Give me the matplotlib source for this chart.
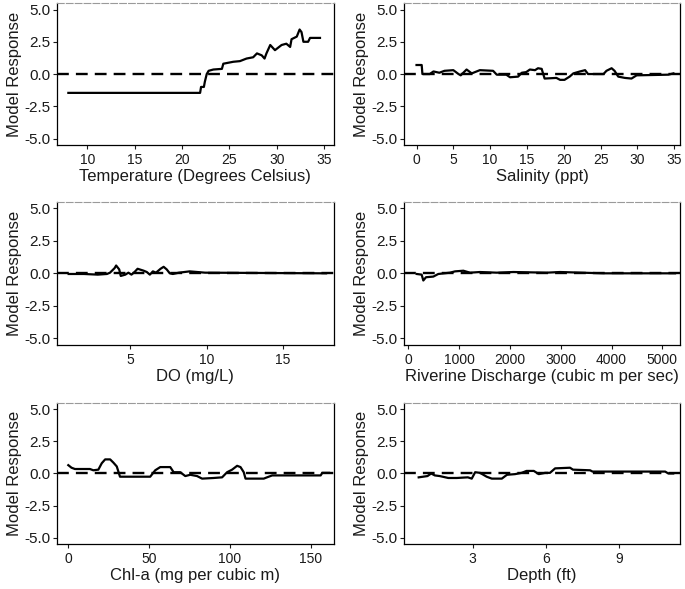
import matplotlib
matplotlib.use("Agg")
import matplotlib.pyplot as plt

plt.rcParams['font.family'] = ['Liberation Sans', 'DejaVu Sans']

# Temperature (Degrees Celsius)
temp_x = [8.0, 21.9, 22.0, 22.3, 22.4, 22.6, 22.8, 23.3, 24.2, 24.35, 25.4, 26.1, 26.8,
          27.5, 27.9, 28.4, 28.7, 28.9, 29.3, 29.8, 30.5, 31.0, 31.4, 31.55, 32.1,
          32.4, 32.6, 32.8, 33.3, 33.5, 34.55]
temp_y = [-1.46, -1.46, -1.0, -1.0, -0.6, 0.0, 0.25, 0.35, 0.4, 0.8, 0.95, 1.0, 1.2,
          1.3, 1.6, 1.45, 1.2, 1.6, 2.25, 1.85, 2.25, 2.35, 2.1, 2.7, 2.9,
          3.45, 3.25, 2.5, 2.5, 2.8, 2.8]

# Salinity (ppt)
sal_x = [0.0, 0.7, 0.8, 1.8, 2.3, 3.1, 3.8, 5.0, 5.7, 6.0, 6.8, 7.5, 8.6, 10.4, 10.9,
         12.2, 12.7, 13.8, 14.3, 14.9, 15.4, 16.1, 16.5, 17.0, 17.4, 19.0, 19.5,
         20.1, 20.8, 21.3, 22.2, 22.9, 23.3, 25.4, 25.8, 26.5, 26.9, 27.4, 28.3,
         29.2, 29.9, 34.2, 34.9]
sal_y = [0.7, 0.7, 0.0, 0.0, 0.2, 0.1, 0.25, 0.3, 0.0, -0.1, 0.35, 0.05, 0.3, 0.25, -0.05,
         -0.05, -0.25, -0.2, 0.1, 0.15, 0.35, 0.3, 0.45, 0.4, -0.35, -0.3, -0.45,
         -0.45, -0.2, 0.05, 0.2, 0.3, 0.0, 0.0, 0.25, 0.45, 0.25, -0.2, -0.3,
         -0.35, -0.1, -0.05, 0.05]

# DO (mg/L)
do_x = [1.0, 2.0, 2.9, 3.5, 3.7, 4.0, 4.1, 4.3, 4.4, 4.7, 4.9, 5.1, 5.3, 5.5, 5.9, 6.1,
        6.3, 6.5, 6.7, 7.0, 7.2, 7.4, 7.6, 7.8, 8.2, 8.9, 9.9, 17.8]
do_y = [-0.05, -0.05, -0.1, -0.05, 0.05, 0.4, 0.6, 0.3, -0.2, -0.1, 0.05, -0.1, 0.1, 0.35,
        0.2, 0.1, -0.1, 0.15, 0.05, 0.35, 0.5, 0.3, 0.0, -0.05, 0.05, 0.15, 0.05, 0.0]

# Riverine Discharge (cubic m per sec)
dis_x = [164, 262, 295, 348, 492, 590, 820, 919, 1083, 1214, 1411, 1739, 2067, 2723,
         2986, 3839, 5249]
dis_y = [-0.05, -0.1, -0.55, -0.3, -0.25, -0.05, 0.05, 0.15, 0.2, 0.05, 0.1, 0.05, 0.1,
         0.05, 0.1, 0.0, 0.0]

# Chl-a (mg per cubic m)
chl_x = [0.0, 2.0, 4.1, 13.4, 15.5, 18.6, 20.7, 22.8, 25.9, 27.9, 30.0, 32.0, 50.7, 53.8,
         56.9, 63.1, 65.2, 69.3, 72.4, 75.5, 79.7, 82.8, 90.0, 95.2, 98.3, 101.4,
         104.5, 106.6, 108.6, 109.7, 121.0, 123.0, 126.2, 156.2, 157.2, 161.4]
chl_y = [0.65, 0.45, 0.35, 0.35, 0.25, 0.3, 0.8, 1.1, 1.1, 0.85, 0.55, -0.25, -0.25, 0.25,
         0.5, 0.5, 0.1, 0.1, -0.2, -0.1, -0.2, -0.4, -0.35, -0.3, 0.1, 0.3,
         0.6, 0.5, 0.1, -0.4, -0.4, -0.3, -0.15, -0.15, 0.05, 0.05]

# Depth (ft)
dep_x = [0.79, 1.15, 1.3, 1.45, 1.65, 2.0, 2.35, 2.8, 2.96, 3.1, 3.3, 3.57, 3.78, 4.19,
         4.4, 4.73, 5.0, 5.2, 5.5, 5.7, 5.96, 6.16, 6.37, 6.98, 7.1, 7.8, 7.9, 10.87,
         11.0, 11.2]
dep_y = [-0.3, -0.2, 0.0, -0.15, -0.2, -0.35, -0.35, -0.3, -0.4, 0.1, 0.05, -0.25, -0.4,
         -0.4, -0.1, -0.05, 0.05, 0.2, 0.2, -0.05, 0.05, 0.05, 0.4, 0.45, 0.3, 0.25,
         0.15, 0.15, 0.0, 0.0]

panels = [
    (temp_x, temp_y, "Temperature (Degrees Celsius)", (6.8, 36.0), [10, 15, 20, 25, 30, 35]),
    (sal_x, sal_y, "Salinity (ppt)", (-1.7, 35.8), [0, 5, 10, 15, 20, 25, 30, 35]),
    (do_x, do_y, "DO (mg/L)", (0.24, 18.3), [5, 10, 15]),
    (dis_x, dis_y, "Riverine Discharge (cubic m per sec)", (-85, 5348), [0, 1000, 2000, 3000, 4000, 5000]),
    (chl_x, chl_y, "Chl-a (mg per cubic m)", (-7, 164.3), [0, 50, 100, 150]),
    (dep_x, dep_y, "Depth (ft)", (0.19, 11.48), [3, 6, 9]),
]

y_ticks = [-5.0, -2.5, 0.0, 2.5, 5.0]

# axes rectangles in figure fractions (left, bottom, width, height)
col_x = [0.0832, 0.5898]
col_w = [0.404, 0.403]
row_y = [0.7538, 0.4143, 0.0764]
row_h = [0.241, 0.2433, 0.2394]

fig = plt.figure(figsize=(6.85, 5.89), dpi=100)
txt = "#1a1a1a"

for i, (x, y, xlabel, xlim, xticks) in enumerate(panels):
    r, c = divmod(i, 2)
    ax = fig.add_axes([col_x[c], row_y[r], col_w[c], row_h[r]])
    ax.plot(x, y, color="black", lw=1.6, zorder=2)
    ax.axhline(0, color="black", lw=1.7, dashes=(5, 3), zorder=3)
    ax.set_xlim(*xlim)
    ax.set_ylim(-5.5, 5.5)
    ax.set_xticks(xticks)
    ax.set_yticks(y_ticks)
    ax.set_yticklabels([f"{v:.1f}" for v in y_ticks])
    ax.tick_params(axis="y", labelsize=11, colors=txt, length=3, width=0.8, pad=1.5)
    ax.tick_params(axis="x", labelsize=10, colors=txt, length=3, width=0.8, pad=3)
    ax.set_xlabel(xlabel, fontsize=12, color=txt, labelpad=1.5)
    ax.set_ylabel("Model Response", fontsize=12, color=txt, labelpad=2)
    for side in ["left", "bottom", "right"]:
        ax.spines[side].set_color("black")
        ax.spines[side].set_linewidth(0.9)
    ax.spines["top"].set_color("#9a9a9a")
    ax.spines["top"].set_linestyle((0, (6, 2)))
    ax.spines["top"].set_linewidth(0.8)

fig.savefig("out.png", dpi=100)
